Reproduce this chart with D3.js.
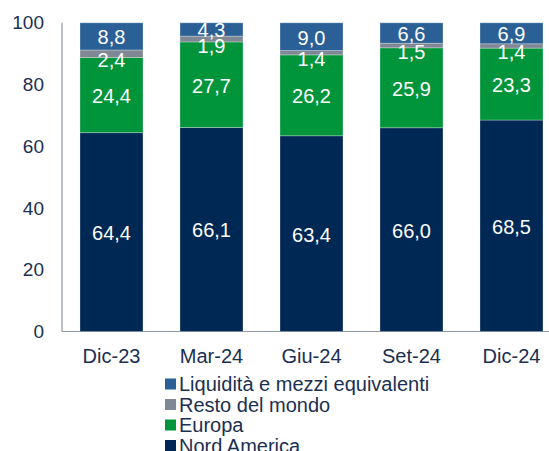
<!DOCTYPE html>
<html>
<head>
<meta charset="utf-8">
<script src="https://cdn.jsdelivr.net/npm/d3@7"></script>
<style>
  body { margin: 0; background: #fff; }
  svg text { font-family: "Liberation Sans", Arial, sans-serif; }
</style>
</head>
<body>
<svg class="chart"></svg>
<script>
const periods = ["Dic-23", "Mar-24", "Giu-24", "Set-24", "Dic-24"]
const nordAmerica = [64.4, 66.1, 63.4, 66.0, 68.5]
const europa = [24.4, 27.7, 26.2, 25.9, 23.3]
const restoMondo = [2.4, 1.9, 1.4, 1.5, 1.4]
const liquidita = [8.8, 4.3, 9.0, 6.6, 6.9]
const yTicks = [0, 20, 40, 60, 80, 100]

const seriesNames = ["Nord America", "Europa", "Resto del mondo", "Liquidità e mezzi equivalenti"]
const seriesValues = [nordAmerica, europa, restoMondo, liquidita]
const colors = ["#002855", "#00953a", "#7f8894", "#2a6096"]

let width = 549
let height = 451
const textColor = "#1b2f52"

let svg = d3.select(".chart")
    .attr("width", width)
    .attr("height", height)

let rows = periods.map((p, i) => {
    let row = {period: p}
    seriesNames.forEach((s, j) => row[s] = seriesValues[j][i])
    return row
})

let stacked = d3.stack().keys(seriesNames)(rows)

let xScale = d3.scaleBand()
    .domain(periods)
    .range([61.5, 561.5])
    .paddingInner(0.37)
    .paddingOuter(0.185)

let yScale = d3.scaleLinear()
    .domain([0, 100])
    .range([331.5, 22.8])

// axes lines
svg.append("line")
    .attr("x1", 62).attr("x2", 62)
    .attr("y1", yScale(100)).attr("y2", yScale(0))
    .attr("stroke", "#8c96a0").attr("stroke-width", 1.2)

svg.append("line")
    .attr("x1", 62).attr("x2", width)
    .attr("y1", yScale(0)).attr("y2", yScale(0))
    .attr("stroke", "#8c96a0").attr("stroke-width", 1.2)

// y tick labels
svg.append("g")
    .selectAll("text")
    .data(yTicks)
    .enter()
    .append("text")
    .attr("x", 44)
    .attr("y", d => yScale(d))
    .attr("dy", "0.35em")
    .attr("text-anchor", "end")
    .attr("font-size", 19)
    .attr("fill", textColor)
    .text(d => d)

// x labels
svg.append("g")
    .selectAll("text")
    .data(periods)
    .enter()
    .append("text")
    .attr("x", d => xScale(d) + xScale.bandwidth() / 2)
    .attr("y", 356)
    .attr("dy", "0.35em")
    .attr("text-anchor", "middle")
    .attr("font-size", 20)
    .attr("fill", textColor)
    .text(d => d)

// bars
let groups = svg.append("g")
    .selectAll("g")
    .data(stacked)
    .enter()
    .append("g")
    .attr("fill", (d, i) => colors[i])

groups.selectAll("rect")
    .data(d => d)
    .enter()
    .append("rect")
    .attr("x", d => xScale(d.data.period))
    .attr("width", xScale.bandwidth())
    .attr("y", d => yScale(Math.min(d[1], 100)))
    .attr("height", d => yScale(d[0]) - yScale(Math.min(d[1], 100)))
    .attr("stroke", "#ffffff")
    .attr("stroke-opacity", 0.35)
    .attr("stroke-width", 0.8)

// value labels
groups.selectAll("text")
    .data(d => d.map(v => ({v: v, key: d.key})))
    .enter()
    .append("text")
    .attr("x", d => xScale(d.v.data.period) + xScale.bandwidth() / 2)
    .attr("y", d => {
        let val = d.v[1] - d.v[0]
        let mid = (yScale(d.v[0]) + yScale(Math.min(d.v[1], 100))) / 2
        return val < 3 ? mid + 6.5 : mid + 1
    })
    .attr("dy", "0.35em")
    .attr("text-anchor", "middle")
    .attr("font-size", 20)
    .attr("fill", "#ffffff")
    .text(d => d3.format(".1f")(d.v[1] - d.v[0]).replace(".", ","))

// legend
let legendItems = seriesNames.slice().reverse()
let legendColors = colors.slice().reverse()
let legend = svg.append("g")
    .selectAll("g")
    .data(legendItems)
    .enter()
    .append("g")
    .attr("transform", (d, i) => `translate(165, ${384 + i * 20.5})`)

legend.append("rect")
    .attr("x", 0).attr("y", -5.5)
    .attr("width", 11).attr("height", 11)
    .attr("fill", (d, i) => legendColors[i])

legend.append("text")
    .attr("x", 14)
    .attr("y", 0)
    .attr("dy", "0.35em")
    .attr("font-size", 20)
    .attr("fill", textColor)
    .text(d => d)
</script>
</body>
</html>
